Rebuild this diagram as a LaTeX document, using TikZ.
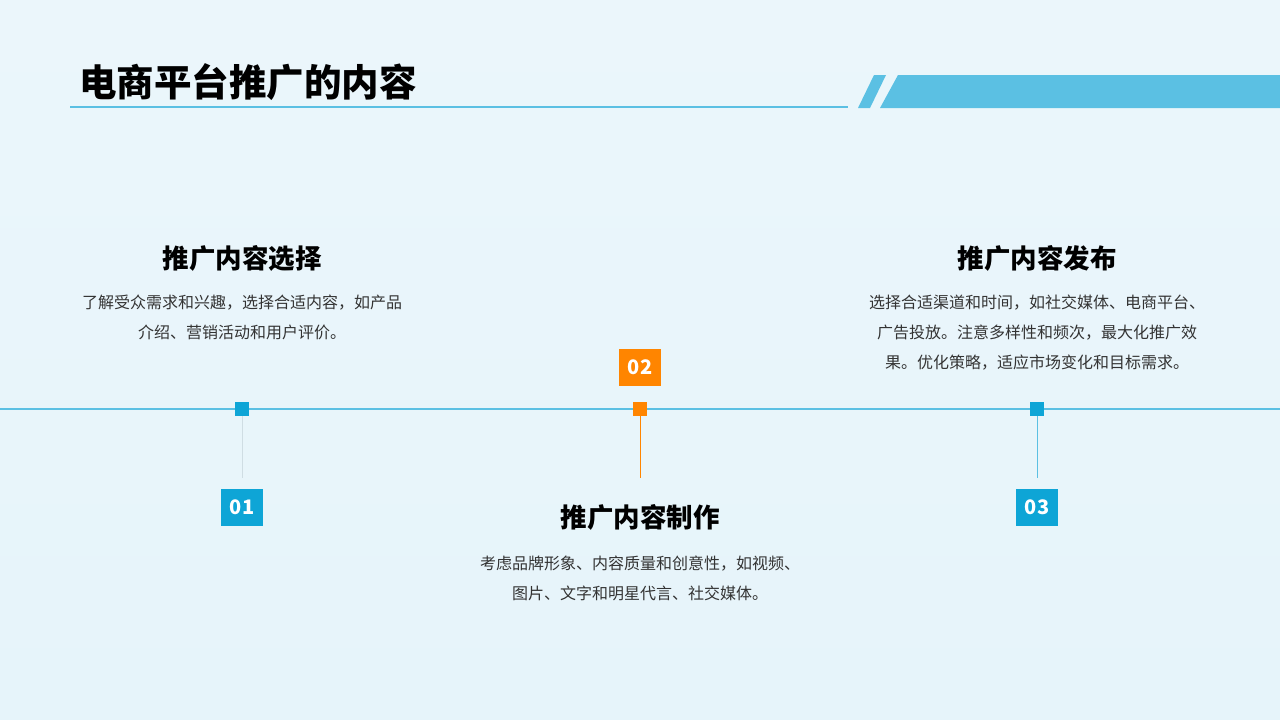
\documentclass[tikz,border=0pt]{standalone}
\usepackage{fontspec}
\setmainfont{Noto Sans CJK SC}
\definecolor{bgc}{HTML}{E6F4FA}
\definecolor{lineblue}{HTML}{5BC0E3}
\definecolor{boxblue}{HTML}{0EA5D6}
\definecolor{boxorange}{HTML}{FF8500}
\definecolor{stemgray}{HTML}{CFDDE3}
\definecolor{bodytext}{HTML}{333333}
\begin{document}
\begin{tikzpicture}[x=1pt,y=-1pt,
  numbox/.style={minimum width=42pt,minimum height=37pt,inner sep=0pt,text=white,font=\fontsize{20}{24}\selectfont\bfseries},
  marker/.style={minimum size=14pt,inner sep=0pt},
  heading/.style={font=\fontsize{26.5}{30}\selectfont\bfseries,text=black,inner sep=0pt},
  body/.style={font=\fontsize{16}{29.7}\selectfont,text=bodytext,align=center,inner sep=0pt}]
\useasboundingbox (0,0) rectangle (1280,720);
\fill[top color=bgc!80!white,bottom color=bgc] (0,0) rectangle (1280,720);
% title
\node[anchor=west,inner sep=0pt,font=\fontsize{37.5}{40}\selectfont\bfseries] (title) at (79,82) {电商平台推广的内容};
\draw[lineblue,line width=2pt] (70,107) -- (848,107);
\fill[lineblue] (874,75) -- (886,75) -- (870,108) -- (858,108) -- cycle;
\fill[lineblue] (898,75) -- (1280,75) -- (1280,108) -- (880,108) -- cycle;
% timeline
\coordinate (tl) at (0,409);
\coordinate (tr) at (1280,409);
\draw[lineblue,line width=2pt] (tl) -- (tr);
% markers
\node[marker,fill=boxblue] (m1) at (242,409) {};
\node[marker,fill=boxorange] (m2) at (640,409) {};
\node[marker,fill=boxblue] (m3) at (1037,409) {};
\coordinate (e1) at (242,478);
\coordinate (e2) at (640,478);
\coordinate (e3) at (1037,478);
\draw[stemgray,line width=1pt] (m1.south) -- (e1);
\draw[boxorange,line width=1pt] (m2.south) -- (e2);
\draw[lineblue,line width=1pt] (m3.south) -- (e3);
% number boxes
\node[numbox,fill=boxblue] (n1) at (242,507) {01};
\node[numbox,fill=boxorange] (n2) at (640,367) {02};
\node[numbox,fill=boxblue] (n3) at (1037,507) {03};
% headings
\node[heading] (h1) at (242,258) {推广内容选择};
\node[heading] (h2) at (640,517) {推广内容制作};
\node[heading] (h3) at (1037,258) {推广内容发布};
% body
\node[body,anchor=north] (b1) at (242,295) {了解受众需求和兴趣，选择合适内容，如产品\\介绍、营销活动和用户评价。};
\node[body,anchor=north] (b2) at (640,556) {考虑品牌形象、内容质量和创意性，如视频、\\图片、文字和明星代言、社交媒体。};
\node[body,anchor=north] (b3) at (1037,295) {选择合适渠道和时间，如社交媒体、电商平台、\\广告投放。注意多样性和频次，最大化推广效\\果。优化策略，适应市场变化和目标需求。};
\end{tikzpicture}
\end{document}
